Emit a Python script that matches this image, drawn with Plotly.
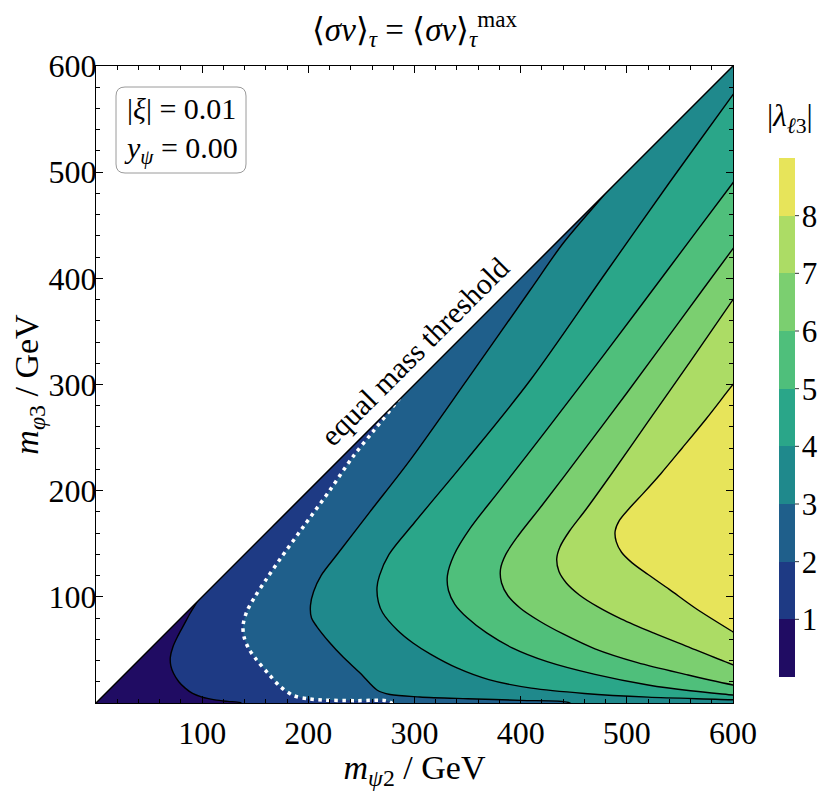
import plotly.graph_objects as go

# ---------------- data ----------------
level_vals = [1, 2, 3, 4, 5, 6, 7, 8]
band_colors = ['#200c63', '#1e3a84', '#1f5f8b', '#1f898c', '#2aa689',
               '#4fbf7b', '#7bcf70', '#acdc65', '#e7e45a']
x_ticks = [100, 200, 300, 400, 500, 600]
y_ticks = [100, 200, 300, 400, 500, 600]
mass_range = [0, 600]

# contour |lambda| = 1
L1_x = [99, 95, 89, 83, 77, 72.5, 70, 70.5, 73, 78, 84, 91, 100, 112, 124, 136, 140]
L1_y = [102, 95, 85, 74, 63, 53, 43, 35, 28, 20, 14, 9, 5.5, 3, 1.5, 0.3, -4]
# contour |lambda| = 2 (white dotted)
L2_x = [286, 282, 262, 242, 220, 196, 173, 160, 149, 142, 138.5, 139.5, 144, 151, 162, 173, 186, 200, 214, 245, 275, 282]
L2_y = [287, 282, 257, 232, 200, 167, 135, 116, 99, 86, 73, 62, 51, 41, 28, 16, 7, 4, 2.8, 2.2, 1.8, -3]
# contour |lambda| = 3
L3_x = [484, 478, 440, 409, 350, 296, 258, 228, 212, 205, 202, 203, 208, 220, 233, 249, 265, 277, 305, 350, 400, 445, 450]
L3_y = [486, 478, 433, 389, 305, 229, 180, 141, 120, 105, 92, 80, 72, 57, 43, 28, 12, 8, 5.7, 4, 2.5, 0.5, -3]
# contour |lambda| = 4
L4_x = [615, 600, 540, 480, 409, 349, 300, 276, 267, 264.7, 266, 270, 283.5, 298.6, 315, 340, 370, 410, 460, 520, 600, 615]
L4_y = [594, 573, 490, 405, 304, 229, 170, 140, 120, 109, 95, 85, 69, 56.5, 46, 33, 22, 14, 9, 5.5, 3, 2]
# contour |lambda| = 5
L5_x = [615, 600, 540, 480, 425, 380, 352, 337, 331, 332, 338, 350, 368, 392, 425, 470, 520, 560, 600, 615]
L5_y = [510, 490, 410, 330, 258, 200, 164, 139, 120, 106, 93, 80, 66, 52, 39, 27, 17, 11.5, 7.5, 6]
# contour |lambda| = 6
L6_x = [615, 600, 550, 500, 455, 420, 398, 386, 381, 382, 388, 400, 418, 440, 470, 510, 555, 600, 615]
L6_y = [448, 428, 360, 292, 232, 186, 158, 140, 126, 113, 101, 89, 77, 65, 51, 38, 27, 17, 15]
# contour |lambda| = 7
L7_x = [615, 600, 560, 520, 485, 462, 446, 437, 434, 436, 443, 455, 472, 495, 525, 560, 600, 615]
L7_y = [401, 380, 322, 265, 215, 183, 162, 147, 136, 124, 113, 102, 91, 79, 66, 52, 36, 31]
# contour |lambda| = 8
L8_x = [615, 600, 575, 552, 532, 515, 502, 493, 489, 490, 495, 505, 520, 540, 565, 600, 615]
L8_y = [318, 300, 268, 240, 216, 197, 183, 172, 162, 152, 142, 132, 121, 107, 89, 67, 58]

contours = [(L1_x, L1_y, 'diag'), (L2_x, L2_y, 'diag'), (L3_x, L3_y, 'diag'),
            (L4_x, L4_y, 'edge'), (L5_x, L5_y, 'edge'), (L6_x, L6_y, 'edge'),
            (L7_x, L7_y, 'edge'), (L8_x, L8_y, 'edge')]

FONT = 'Liberation Serif'
OFF = 8                      # page body margin of the html page
W, H = 814, 783
ML, MT = 96 - OFF, 66 - OFF
MR = W - (733 - OFF)
MB = H - (703 - OFF)
PW = W - ML - MR
PH = H - MT - MB
SM = 0.9


def px2x(p):
    return (p - OFF - ML) / PW


def px2y(p):
    return (H - MB - (p - OFF)) / PH


fig = go.Figure()

lo, hi = mass_range
far = hi + 100
# base band (0-1) in the allowed triangle
fig.add_trace(go.Scatter(x=[lo - 20, far, far], y=[lo - 20, lo - 20, far], fill='toself',
                         mode='lines', line=dict(width=0), fillcolor=band_colors[0],
                         hoverinfo='skip', showlegend=False))

# filled regions above each level
for i, (cx, cy, kind) in enumerate(contours):
    if kind == 'edge':
        px = list(cx) + [far, far]
        py = list(cy) + [cy[-1], cy[0]]
    else:
        px = list(cx) + [far, far, cx[0]]
        py = list(cy) + [lo - 60, far, far]
    fig.add_trace(go.Scatter(x=px, y=py, fill='toself', mode='lines',
                             line=dict(width=0, shape='spline', smoothing=SM),
                             fillcolor=band_colors[i + 1], hoverinfo='skip', showlegend=False))

# contour lines
for i, (cx, cy, kind) in enumerate(contours):
    if level_vals[i] == 2:
        ln = dict(color='white', width=3.5, dash='3.5px,4.5px', shape='spline', smoothing=SM)
    else:
        ln = dict(color='black', width=1.4, shape='spline', smoothing=SM)
    fig.add_trace(go.Scatter(x=cx, y=cy, mode='lines', line=ln,
                             hoverinfo='skip', showlegend=False))

# white mask above the equal-mass threshold
fig.add_trace(go.Scatter(x=[lo - 20, far, lo - 20], y=[lo - 20, far, far], fill='toself',
                         mode='lines', line=dict(width=0), fillcolor='white',
                         hoverinfo='skip', showlegend=False))
# threshold line
fig.add_trace(go.Scatter(x=mass_range, y=mass_range, mode='lines',
                         line=dict(color='black', width=1.5),
                         hoverinfo='skip', showlegend=False))

# colour bar (discrete)
nb = len(band_colors)
cs = []
for k, c in enumerate(band_colors):
    cs.append([k / nb, c])
    cs.append([(k + 1) / nb, c])
cb_top, cb_bot = 158, 677
cb_len = cb_bot - cb_top
cb_x = 779
cb_th = 16
fig.add_trace(go.Scatter(
    x=[None], y=[None], mode='markers', showlegend=False, hoverinfo='skip',
    marker=dict(color=[0], colorscale=cs, cmin=0, cmax=nb, showscale=True,
                colorbar=dict(
                    x=px2x(cb_x), xanchor='left', xref='paper',
                    y=px2y((cb_top + cb_bot) / 2), yanchor='middle', yref='paper',
                    len=cb_len, lenmode='pixels', thickness=cb_th, thicknessmode='pixels',
                    xpad=0, ypad=0, outlinewidth=0,
                    tickvals=level_vals, ticktext=[str(v) for v in level_vals],
                    ticks='', ticklen=0,
                    tickfont=dict(family=FONT, size=31, color='black'),
                    title=dict(text=''),
                ))))

shapes = []
for v in level_vals:
    yp = cb_bot - v * cb_len / nb
    shapes.append(dict(type='line', xref='paper', yref='paper',
                       x0=px2x(cb_x), x1=px2x(cb_x + cb_th + 4), y0=px2y(yp), y1=px2y(yp),
                       line=dict(color='rgba(0,0,0,0.8)', width=1)))

# rounded parameter box
bx0, by0, bx1, by1, r = 116, 87, 246, 173, 9
path = (f"M {px2x(bx0 + r)},{px2y(by0)} L {px2x(bx1 - r)},{px2y(by0)} "
        f"Q {px2x(bx1)},{px2y(by0)} {px2x(bx1)},{px2y(by0 + r)} "
        f"L {px2x(bx1)},{px2y(by1 - r)} Q {px2x(bx1)},{px2y(by1)} {px2x(bx1 - r)},{px2y(by1)} "
        f"L {px2x(bx0 + r)},{px2y(by1)} Q {px2x(bx0)},{px2y(by1)} {px2x(bx0)},{px2y(by1 - r)} "
        f"L {px2x(bx0)},{px2y(by0 + r)} Q {px2x(bx0)},{px2y(by0)} {px2x(bx0 + r)},{px2y(by0)} Z")
shapes.append(dict(type='path', xref='paper', yref='paper', path=path,
                   line=dict(color='#9a9a9a', width=1), fillcolor='white', layer='above'))

annotations = [
    dict(text='|<i>ξ</i>| = 0.01<br><i>y</i><sub><i>ψ</i></sub> = 0.00', xref='paper', yref='paper',
         x=px2x(122), y=px2y(130), xanchor='left', yanchor='middle', align='left', showarrow=False,
         font=dict(family=FONT, size=30, color='black')),
    dict(text='equal mass threshold', xref='x', yref='y', x=300, y=331, textangle=-45,
         showarrow=False, font=dict(family=FONT, size=30, color='black')),
    dict(text='|<i>λ</i><sub><i>ℓ</i>3</sub>|', xref='paper', yref='paper',
         x=px2x(790), y=px2y(118), xanchor='center', yanchor='middle', showarrow=False,
         font=dict(family=FONT, size=31, color='black')),
]

axis_common = dict(range=mass_range, showgrid=False, zeroline=False, showline=True,
                   linecolor='black', linewidth=1, mirror='ticks', ticks='inside',
                   ticklen=7, tickwidth=1, tickcolor='black',
                   minor=dict(dtick=20, ticks='inside', ticklen=4, tickwidth=1, tickcolor='black'),
                   tickfont=dict(family=FONT, size=32, color='black'))

fig.update_layout(
    width=W, height=H, margin=dict(l=ML, r=MR, t=MT, b=MB, autoexpand=False),
    plot_bgcolor='white', paper_bgcolor='white',
    title=dict(text='⟨<i>σv</i>⟩<sub><i>τ</i></sub> = ⟨<i>σv</i>⟩<sub><i>τ</i></sub><sup>max</sup>',
               x=0.5, xref='paper', xanchor='center', y=1 - (29 - OFF) / H, yref='container',
               yanchor='middle', font=dict(family=FONT, size=33, color='black')),
    xaxis=dict(**axis_common, tickvals=x_ticks, ticklabelstandoff=2,
               title=dict(text='<i>m</i><sub><i>ψ</i>2</sub> / GeV', standoff=2,
                          font=dict(family=FONT, size=34, color='black'))),
    yaxis=dict(**axis_common, tickvals=y_ticks, ticklabelstandoff=-8,
               title=dict(text='<i>m</i><sub><i>φ</i>3</sub> / GeV', standoff=4,
                          font=dict(family=FONT, size=34, color='black'))),
    shapes=shapes, annotations=annotations,
)

fig.write_html('out.html')
